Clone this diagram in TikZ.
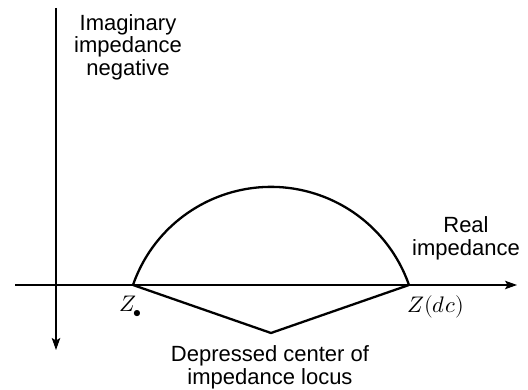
\documentclass[tikz,border=0pt]{standalone}
\usepackage{fontspec}
\usepackage{unicode-math}
\setmainfont{Liberation Sans}
\setmathfont{Latin Modern Math}
\usetikzlibrary{arrows.meta}
\begin{document}
\begin{tikzpicture}[x=1pt,y=1pt,
  axis/.style={line width=1.1pt,-{Stealth[length=12pt,width=8.5pt,inset=2.5pt]}},
  curve/.style={line width=2.3pt,line join=miter},
  lbl/.style={align=center,inner sep=0pt,font=\fontsize{22}{22.5}\selectfont},
  mlbl/.style={inner sep=0pt,anchor=base west,font=\fontsize{22.5}{24}\selectfont}]
\useasboundingbox (0,0) rectangle (528,390);
% axis end points
\coordinate (vtop) at (56,382);
\coordinate (vbot) at (56,40);
\coordinate (hleft) at (15,105);
\coordinate (hright) at (517,105);
% locus points
\coordinate (C) at (271,57);
\coordinate (L) at (133,105);
\coordinate (R) at (409,105);
% axes
\draw[axis] (vtop) -- (vbot);
\draw[axis] (hleft) -- (hright);
% locus
\draw[curve] (L) arc[start angle=160.82,end angle=19.18,radius=146.1];
\draw[curve] (L) -- (C) -- (R);
% labels
\node[lbl] (imag) at (128,343) {Imaginary\\impedance\\negative};
\node[lbl] (real) at (466,151.5) {Real\\impedance};
\node[lbl] (depr) at (270,22.5) {Depressed center of\\impedance locus};
\node[mlbl] (zinf) at (119,78) {$Z_{\hspace{-1pt}\bullet}$};
\node[mlbl] (zdc) at (407,77) {$Z(dc)$};
\end{tikzpicture}
\end{document}
